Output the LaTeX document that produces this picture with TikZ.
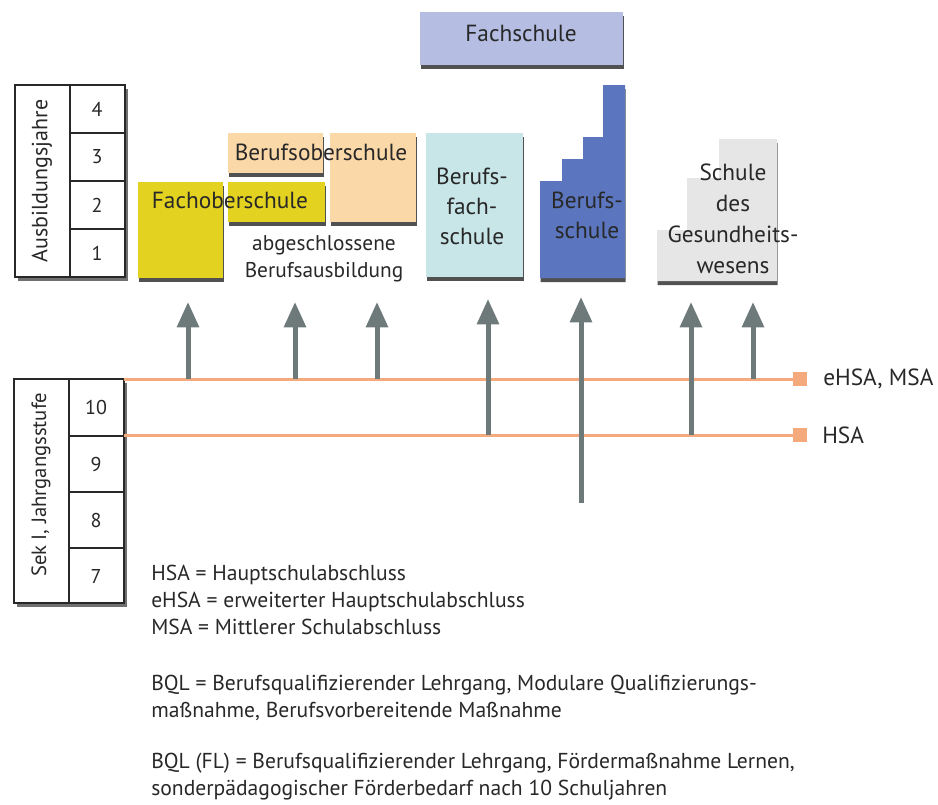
\documentclass[tikz,border=0pt]{standalone}
\usepackage{fontspec}
\setmainfont{PT Sans}
\usetikzlibrary{arrows.meta,shadows}

\definecolor{fosyellow}{RGB}{227,211,32}
\definecolor{bospeach}{RGB}{250,216,168}
\definecolor{fslilac}{RGB}{181,190,226}
\definecolor{bfscyan}{RGB}{200,230,232}
\definecolor{bsblue}{RGB}{91,118,191}
\definecolor{gesgray}{RGB}{230,230,230}
\definecolor{arrowgray}{RGB}{110,122,122}
\definecolor{lineorange}{RGB}{245,170,125}
\definecolor{inkgray}{RGB}{40,40,40}

\begin{document}
\begin{tikzpicture}[x=0.75pt, y=-0.75pt,
		every node/.style={text=inkgray, inner sep=0pt},
		lbl/.style={font=\fontsize{17.5}{22.5}\selectfont, align=center},
		legend/.style={font=\fontsize{16.2}{20.25}\selectfont, align=left, anchor=base west},
		num/.style={font=\fontsize{15}{18}\selectfont},
		schoolbox/.style={drop shadow={shadow xshift=0.5pt, shadow yshift=-3pt, fill=black!80, opacity=0.85}},
		tablebox/.style={draw=inkgray, line width=1.5pt, fill=white, drop shadow={shadow xshift=2pt, shadow yshift=-3pt, fill=black!70, opacity=0.8}},
		tableline/.style={draw=inkgray, line width=1.5pt},
		levelline/.style={draw=lineorange, line width=2.25pt},
		uparrow/.style={draw=arrowgray, line width=3.75pt, -{Triangle[width=16pt, length=19pt]}}]
	\useasboundingbox (0,0) rectangle (938,804);

	% Ausbildungsjahre
	\path[tablebox] (15,85) rectangle (125,277);
	\draw[tableline] (70,85) -- (70,277);
	\foreach \y in {133, 181, 229}
		\draw[tableline] (70,\y) -- (125,\y);
	\node[num, font=\fontsize{16.5}{18}\selectfont, rotate=90] (ajahre) at (42,181) {Ausbildungsjahre};
	\foreach \k/\y in {4/109, 3/157, 2/205, 1/253}
		\node[num] (aj\k) at (97,\y) {\k};

	% Sek I
	\path[tablebox] (14,379) rectangle (124,603);
	\draw[tableline] (69,379) -- (69,603);
	\foreach \y in {436, 492, 548}
		\draw[tableline] (69,\y) -- (124,\y);
	\node[num, font=\fontsize{15.5}{18}\selectfont, rotate=90] (seki) at (41,485) {Sek I, Jahrgangsstufe};
	\foreach \k/\y in {10/407, 9/464, 8/520, 7/576}
		\node[num] (jg\k) at (96,\y) {\k};

	% Schulformen
	\path[schoolbox, fill=fslilac] (420,12) rectangle (623,65);
	\path[schoolbox, fill=fosyellow] (138,182) rectangle (223,278);
	\path[schoolbox, fill=fosyellow] (228,182) rectangle (325,222);
	\path[schoolbox, fill=bospeach] (228,133) rectangle (323,173);
	\path[schoolbox, fill=bospeach] (330,133) rectangle (416,222);
	\path[schoolbox, fill=bfscyan] (426,133) rectangle (523,277);
	\path[schoolbox, fill=bsblue] (540,278) -- (540,181) -- (562,181) -- (562,159) -- (583,159)
		-- (583,137) -- (603,137) -- (603,85) -- (625,85) -- (625,278) -- cycle;
	\path[schoolbox, fill=gesgray] (657,281) -- (657,230) -- (687,230) -- (687,178) -- (719,178)
		-- (719,139) -- (777,139) -- (777,281) -- cycle;

	\node[lbl] (fs) at (521,33) {Fachschule};
	\node[lbl] (bos) at (321,152) {Berufsoberschule};
	\node[lbl] (fos) at (230,200) {Fachoberschule};
	\node[lbl, font=\fontsize{16}{20.25}\selectfont] (abg) at (324,259) {abgeschlossene\\Berufsausbildung};
	\node[lbl] (bfs) at (472,206) {Berufs-\\fach-\\schule};
	\node[lbl] (bs) at (587,215) {Berufs-\\schule};
	\node[lbl, font=\fontsize{17.5}{23.25}\selectfont] (ges) at (733,219) {Schule\\des\\Gesundheits-\\wesens};

	% Abschluesse
	\coordinate (ehsa-l) at (124,379);
	\coordinate (hsa-l) at (124,435);
	\node[fill=lineorange, minimum size=10.5pt] (ehsa-sq) at (800,379) {};
	\node[fill=lineorange, minimum size=10.5pt] (hsa-sq) at (800,435) {};
	\draw[levelline] (ehsa-l) -- (ehsa-sq);
	\draw[levelline] (hsa-l) -- (hsa-sq);
	\node[lbl, anchor=west] (ehsa) at (823,379) {eHSA, MSA};
	\node[lbl, anchor=west] (hsa) at (822,435) {HSA};

	% Uebergaenge
	\foreach \n/\x/\ya/\yb in {a/188/379/302, b/295/379/302, c/377/379/302, d/488/435/299,
			e/581/503/297, f/691/435/302, g/753/379/302} {
		\coordinate (\n-from) at (\x,\ya);
		\coordinate (\n-to) at (\x,\yb);
		\draw[uparrow] (\n-from) -- (\n-to);
	}

	% Legende
	\node[legend] (leg1) at (151,634) {HSA = Hauptschulabschluss\\eHSA = erweiterter Hauptschulabschluss\\MSA = Mittlerer Schulabschluss};
	\node[legend] (leg2) at (151,717) {BQL = Berufsqualifizierender Lehrgang, Modulare Qualifizierungs-\\maßnahme, Berufsvorbereitende Maßnahme};
	\node[legend] (leg3) at (151,795) {BQL (FL) = Berufsqualifizierender Lehrgang, Fördermaßnahme Lernen,\\sonderpädagogischer Förderbedarf nach 10 Schuljahren};
\end{tikzpicture}
\end{document}
